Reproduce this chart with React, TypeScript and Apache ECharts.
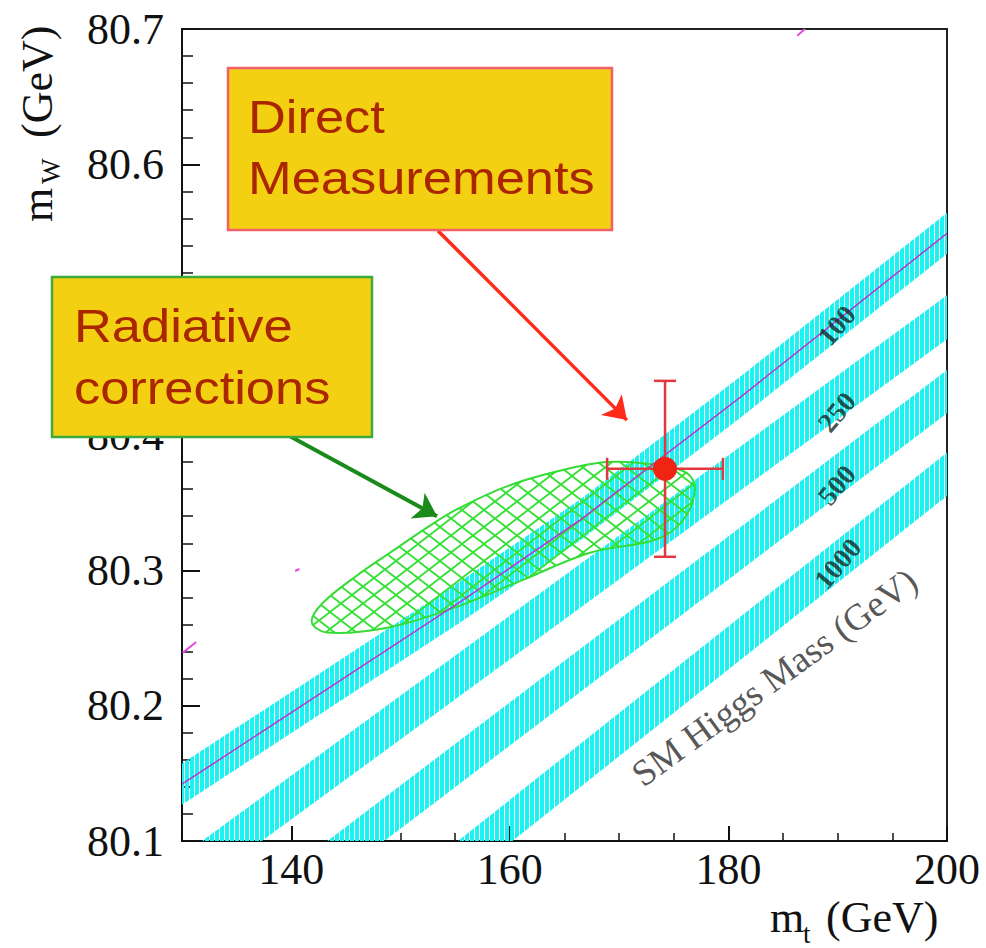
import React, { useEffect, useRef } from 'react';
import * as echarts from 'echarts';

// ---- axis ticks ----
const xLabelValues = [140, 160, 180, 200];
const xMinorStep = 5;
const yMin = 80.1;
const yMax = 80.7;
const yStep = 0.1;

// ---- SM Higgs mass bands (centre lines) ----
const higgsLabels = ['100', '250', '500', '1000'];
const band100X = [130, 155.7, 166.4, 181.1, 200];
const band100Y = [80.142, 80.278, 80.337, 80.428, 80.549];
const band250X = [130, 200];
const band250Y = [80.073, 80.487];
const band500X = [142, 200];
const band500Y = [80.076, 80.432];
const band1000X = [154, 200];
const band1000Y = [80.076, 80.371];
const bandHalfWidth = [0.0152, 0.0162, 0.016, 0.016];
const bandLabelX = [189.9, 189.9, 189.9, 190.0];
const bandLabelY = [80.481, 80.417, 80.363, 80.305];

// ---- radiative-corrections contour ----
const contourX = [141.87, 143.24, 149.03, 155.13, 161.2, 167.33, 173.43, 175.84, 176.94, 176.18, 173.43, 168.86, 164.28, 159.71, 155.13, 152.69, 149.03, 145.98, 142.9];
const contourY = [80.262, 80.254, 80.258, 80.273, 80.293, 80.313, 80.323, 80.337, 80.36, 80.372, 80.378, 80.38, 80.373, 80.362, 80.345, 80.333, 80.313, 80.296, 80.276];

// ---- direct measurement ----
const directMt = [174.2];
const directMw = [80.375];
const directMtErr = [5.3];
const directMwErr = [0.065];

// ---- annotation arrows (data coords) ----
const redArrowFrom = [153.42, 80.551];
const redArrowTo = [170.71, 80.411];
const greenArrowFrom = [139.88, 80.399];
const greenArrowTo = [153.33, 80.34];

// ---- small stray contour pieces ----
const strayX = [[130.05, 131.3], [186.3, 187.0], [140.35, 140.75]];
const strayY = [[80.239, 80.247], [80.695, 80.7], [80.2995, 80.301]];

const serif = '"Liberation Serif", "Times New Roman", serif';
const sans = '"Liberation Sans", Arial, sans-serif';

export default function App() {
  const ref = useRef<HTMLDivElement>(null);

  useEffect(() => {
    if (!ref.current) return;
    const chart = echarts.init(ref.current, null, { renderer: 'svg' });

    // cyan striped pattern for bands
    const bandCanvas = document.createElement('canvas');
    bandCanvas.width = 5;
    bandCanvas.height = 5;
    const bctx = bandCanvas.getContext('2d')!;
    bctx.fillStyle = '#1CF2F2';
    bctx.fillRect(0, 0, 4, 5);
    const bandPattern = { image: bandCanvas, repeat: 'repeat' };

    // green cross-hatch pattern for contour
    const hw = 22;
    const hh = 17;
    const hatchCanvas = document.createElement('canvas');
    hatchCanvas.width = hw;
    hatchCanvas.height = hh;
    const hctx = hatchCanvas.getContext('2d')!;
    hctx.strokeStyle = '#36E036';
    hctx.lineWidth = 1.8;
    hctx.beginPath();
    hctx.moveTo(-2, (-2 * hh) / hw);
    hctx.lineTo(hw + 2, hh + (2 * hh) / hw);
    hctx.moveTo(-2, hh + (2 * hh) / hw);
    hctx.lineTo(hw + 2, (-2 * hh) / hw);
    hctx.stroke();
    const hatchPattern = { image: hatchCanvas, repeat: 'repeat' };

    const bandXs = [band100X, band250X, band500X, band1000X];
    const bandYs = [band100Y, band250Y, band500Y, band1000Y];

    const subText = (x: number, y: number, rot: number, parts: any[]) => ({
      type: 'group',
      x,
      y,
      rotation: rot,
      z: 100,
      children: parts,
    });

    const option: any = {
      animation: false,
      backgroundColor: '#ffffff',
      grid: {
        left: 182,
        top: 29,
        width: 765,
        height: 812,
        show: true,
        borderColor: '#222',
        borderWidth: 2,
        backgroundColor: 'transparent',
        containLabel: false,
        outerBoundsMode: 'none',
      },
      xAxis: [
        {
          type: 'value',
          min: 130,
          max: 200,
          interval: 10,
          position: 'bottom',
          axisLine: { show: true, lineStyle: { color: '#111', width: 2 } },
          axisTick: {
            show: true,
            inside: true,
            length: 15,
            customValues: xLabelValues,
            lineStyle: { color: '#111', width: 2 },
          },
          axisLabel: {
            show: true,
            customValues: xLabelValues,
            margin: 6,
            fontFamily: serif,
            fontSize: 44,
            color: '#111',
          },
          splitLine: { show: false },
        },
        {
          type: 'value',
          min: 130,
          max: 200,
          interval: xMinorStep,
          position: 'bottom',
          axisLine: { show: false },
          axisTick: { show: true, inside: true, length: 8, lineStyle: { color: '#111', width: 1.5 } },
          axisLabel: { show: false },
          splitLine: { show: false },
        },
      ],
      yAxis: {
        type: 'value',
        min: yMin,
        max: yMax,
        interval: yStep,
        axisLine: { show: true, lineStyle: { color: '#111', width: 2 } },
        axisTick: { show: true, inside: true, length: 18, lineStyle: { color: '#111', width: 2 } },
        minorTick: { show: true, splitNumber: 5, length: 11, lineStyle: { color: '#111', width: 1.5 } },
        axisLabel: {
          margin: 18,
          fontFamily: serif,
          fontSize: 44,
          color: '#111',
          formatter: (v: number) => v.toFixed(1),
        },
        splitLine: { show: false },
      },
      series: [
        {
          type: 'custom',
          name: 'bands',
          silent: true,
          z: 1,
          data: higgsLabels.map((_, i) => [bandXs[i][0], bandYs[i][0], i]),
          renderItem: (params: any, api: any) => {
            const i = params.dataIndex;
            const xs = bandXs[i];
            const ys = bandYs[i];
            const h = bandHalfWidth[i];
            const up = xs.map((x, k) => api.coord([x, ys[k] + h]));
            const lo = xs.map((x, k) => api.coord([x, ys[k] - h])).reverse();
            const cs = params.coordSys;
            return {
              type: 'polygon',
              shape: { points: up.concat(lo) },
              style: { fill: bandPattern, stroke: null },
              clipPath: { type: 'rect', shape: { x: cs.x, y: cs.y, width: cs.width, height: cs.height } },
            };
          },
        },
        {
          type: 'custom',
          name: 'contour',
          silent: true,
          z: 2,
          data: [[contourX[0], contourY[0]]],
          renderItem: (params: any, api: any) => {
            const pts = contourX.map((x, k) => api.coord([x, contourY[k]]));
            return {
              type: 'polygon',
              shape: { points: pts, smooth: 0.35 },
              style: { fill: hatchPattern, stroke: '#36DC36', lineWidth: 2 },
            };
          },
        },
        {
          type: 'line',
          name: 'mH100',
          silent: true,
          z: 3,
          symbol: 'none',
          data: band100X.map((x, i) => [x, band100Y[i]]),
          lineStyle: { color: '#B43CD2', width: 1.6 },
        },
        {
          type: 'lines',
          coordinateSystem: 'cartesian2d',
          silent: true,
          z: 3,
          symbol: ['none', 'none'],
          data: strayX.map((xs, i) => ({ coords: [[xs[0], strayY[i][0]], [xs[1], strayY[i][1]]] })),
          lineStyle: { color: '#E050E0', width: 2, opacity: 1 },
        },
        {
          type: 'custom',
          name: 'errors',
          silent: true,
          z: 4,
          data: directMt.map((x, i) => [x, directMw[i], directMtErr[i], directMwErr[i]]),
          renderItem: (params: any, api: any) => {
            const x = api.value(0);
            const y = api.value(1);
            const ex = api.value(2);
            const ey = api.value(3);
            const l = api.coord([x - ex, y]);
            const r = api.coord([x + ex, y]);
            const t = api.coord([x, y + ey]);
            const b = api.coord([x, y - ey]);
            const cap = 11;
            const st = { stroke: '#E0383F', lineWidth: 2.5 };
            const ln = (x1: number, y1: number, x2: number, y2: number) => ({
              type: 'line',
              shape: { x1, y1, x2, y2 },
              style: st,
            });
            return {
              type: 'group',
              children: [
                ln(l[0], l[1], r[0], r[1]),
                ln(t[0], t[1], b[0], b[1]),
                ln(l[0], l[1] - cap, l[0], l[1] + cap),
                ln(r[0], r[1] - cap, r[0], r[1] + cap),
                ln(t[0] - cap, t[1], t[0] + cap, t[1]),
                ln(b[0] - cap, b[1], b[0] + cap, b[1]),
              ],
            };
          },
        },
        {
          type: 'scatter',
          name: 'direct',
          silent: true,
          z: 5,
          symbolSize: 24,
          itemStyle: { color: '#F02412', opacity: 1 },
          data: directMt.map((x, i) => [x, directMw[i]]),
        },
        {
          type: 'lines',
          coordinateSystem: 'cartesian2d',
          silent: true,
          z: 6,
          symbol: ['none', 'arrow'],
          symbolSize: 22,
          data: [
            { coords: [redArrowFrom, redArrowTo], lineStyle: { color: '#FF2A18', width: 3.5, opacity: 1 } },
            { coords: [greenArrowFrom, greenArrowTo], lineStyle: { color: '#1A8A1A', width: 4, opacity: 1 } },
          ],
          lineStyle: { opacity: 1 },
        },
        {
          type: 'scatter',
          name: 'bandLabels',
          silent: true,
          z: 7,
          symbolSize: 1,
          itemStyle: { color: 'rgba(0,0,0,0)' },
          data: higgsLabels.map((l, i) => [bandLabelX[i], bandLabelY[i], l]),
          label: {
            show: true,
            position: 'inside',
            rotate: 50,
            formatter: (p: any) => p.value[2],
            fontFamily: serif,
            fontWeight: 'bold',
            fontSize: 28,
            color: '#142626',
          },
        },
        {
          type: 'scatter',
          name: 'smLabel',
          silent: true,
          z: 7,
          symbolSize: 1,
          itemStyle: { color: 'rgba(0,0,0,0)' },
          data: [[184.2, 80.221, 'SM Higgs Mass (GeV)']],
          label: {
            show: true,
            position: 'inside',
            rotate: 36,
            formatter: (p: any) => p.value[2],
            fontFamily: serif,
            fontSize: 37,
            color: '#2a2a2a',
          },
        },
      ],
      graphic: [
        {
          type: 'rect',
          z: 100,
          shape: { x: 228, y: 68, width: 384, height: 162 },
          style: { fill: '#F4D012', stroke: '#F2606A', lineWidth: 2.5 },
        },
        {
          type: 'text',
          z: 101,
          x: 248,
          y: 117,
          scaleX: 1.14,
          style: { text: 'Direct', fontFamily: sans, fontSize: 46, fill: '#AA2600', verticalAlign: 'middle', align: 'left' },
        },
        {
          type: 'text',
          z: 101,
          x: 248,
          y: 178,
          scaleX: 1.14,
          style: { text: 'Measurements', fontFamily: sans, fontSize: 46, fill: '#AA2600', verticalAlign: 'middle', align: 'left' },
        },
        {
          type: 'rect',
          z: 100,
          shape: { x: 52, y: 277, width: 320, height: 160 },
          style: { fill: '#F4D012', stroke: '#3DAA3D', lineWidth: 2.5 },
        },
        {
          type: 'text',
          z: 101,
          x: 74,
          y: 326,
          scaleX: 1.14,
          style: { text: 'Radiative', fontFamily: sans, fontSize: 46, fill: '#AA2600', verticalAlign: 'middle', align: 'left' },
        },
        {
          type: 'text',
          z: 101,
          x: 74,
          y: 388,
          scaleX: 1.14,
          style: { text: 'corrections', fontFamily: sans, fontSize: 46, fill: '#AA2600', verticalAlign: 'middle', align: 'left' },
        },
        // y-axis title m_W (GeV)
        subText(52, 222, Math.PI / 2, [
          { type: 'text', x: 0, y: -14.5, style: { text: 'm', fontFamily: serif, fontSize: 44, fill: '#111', verticalAlign: 'middle' } },
          { type: 'text', x: 38, y: -1, style: { text: 'W', fontFamily: serif, fontSize: 27, fill: '#111', verticalAlign: 'middle' } },
          { type: 'text', x: 84, y: -14.5, style: { text: '(GeV)', fontFamily: serif, fontSize: 44, fill: '#111', verticalAlign: 'middle' } },
        ]),
        // x-axis title m_t (GeV)
        subText(770, 932, 0, [
          { type: 'text', x: 0, y: -15, style: { text: 'm', fontFamily: serif, fontSize: 44, fill: '#111', verticalAlign: 'middle' } },
          { type: 'text', x: 33, y: 2, style: { text: 't', fontFamily: serif, fontSize: 27, fill: '#111', verticalAlign: 'middle' } },
          { type: 'text', x: 56, y: -15, style: { text: '(GeV)', fontFamily: serif, fontSize: 44, fill: '#111', verticalAlign: 'middle' } },
        ]),
      ],
    };

    chart.setOption(option);
    return () => chart.dispose();
  }, []);

  return (
    <div
      ref={ref}
      style={{ position: 'fixed', left: 0, top: 0, width: 986, height: 948, background: '#fff' }}
    />
  );
}
